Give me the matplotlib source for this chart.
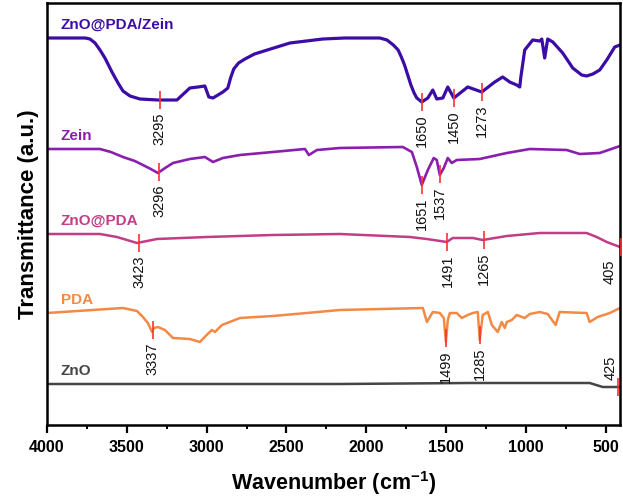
import numpy as np
import matplotlib
matplotlib.use("Agg")
import matplotlib.pyplot as plt
from matplotlib.ticker import MultipleLocator

plt.rcParams['font.family'] = ['Liberation Sans', 'DejaVu Sans']

# ---------------- data (wavenumber cm-1, offset transmittance a.u.) ----------------
combo_w = [4000, 3760, 3731, 3699, 3668, 3637, 3593, 3555, 3524, 3480, 3418, 3305, 3186, 3105,
           3054, 3011, 2986, 2960, 2898, 2867, 2850, 2830, 2800, 2760, 2700, 2600, 2478, 2272,
           2134, 1915, 1870, 1830, 1800, 1780, 1760, 1740, 1720, 1700, 1683, 1652, 1614, 1583,
           1558, 1520, 1489, 1451, 1364, 1276, 1195, 1145, 1101, 1057, 1038, 1032, 1007, 957,
           913, 900, 882, 863, 831, 769, 706, 650, 619, 580, 537, 493, 443, 410]
combo_t = [387, 387, 386, 382, 375, 367, 353, 342, 334, 329, 326, 325, 325, 337,
           338, 339, 328, 327, 333, 337, 347, 356, 362, 366, 371, 376, 382, 386,
           387, 387, 385, 380, 375, 368, 360, 350, 340, 332, 327, 323, 327, 335,
           326, 327, 338, 327, 338, 333, 343, 348, 343, 340, 338, 347, 375, 385,
           384, 386, 367, 386, 383, 372, 357, 350, 349, 351, 355, 365, 378, 380]

zein_w = [4000, 3668, 3600, 3524, 3450, 3399, 3350, 3305, 3260, 3211, 3105, 3011, 2960, 2898,
          2791, 2585, 2384, 2359, 2309, 2165, 1771, 1714, 1683, 1652, 1614, 1577, 1558, 1539,
          1514, 1489, 1464, 1433, 1289, 1119, 975, 744, 662, 537, 410]
zein_t = [276, 276, 273, 268, 264, 260, 256, 252, 257, 262, 266, 268, 263, 267,
          270, 273, 276, 270, 275, 277, 278, 273, 258, 240, 255, 267, 265, 250,
          257, 267, 262, 265, 266, 272, 276, 275, 271, 272, 279]

znopda_w = [4000, 3668, 3562, 3436, 3311, 2998, 2585, 2165, 1727, 1620, 1495, 1458, 1332, 1270,
            1119, 913, 619, 556, 493, 410]
znopda_t = [191, 191, 188, 182, 186, 188, 190, 191, 188, 186, 183, 187, 187, 185,
            189, 192, 192, 188, 183, 178]

pda_w = [4000, 3524, 3436, 3399, 3368, 3342, 3330, 3305, 3261, 3211, 3105, 3042, 3000, 2967,
         2948, 2904, 2791, 2585, 2372, 2165, 1645, 1620, 1583, 1539, 1514, 1501, 1489, 1476,
         1433, 1401, 1364, 1332, 1301, 1289, 1270, 1238, 1213, 1176, 1151, 1132, 1119, 1088,
         1057, 1007, 975, 913, 863, 813, 788, 619, 600, 550, 474, 410]
pda_t = [112, 117, 114, 108, 102, 93, 97, 98, 95, 87, 86, 83, 90, 95,
         93, 100, 107, 109, 112, 115, 117, 103, 113, 112, 107, 83, 105, 112,
         112, 107, 110, 112, 113, 85, 110, 113, 100, 93, 103, 97, 103, 105,
         110, 107, 111, 113, 111, 100, 113, 112, 103, 108, 112, 117]

zno_w = [4000, 2165, 1351, 600, 518, 410]
zno_t = [41, 41, 42, 42, 38, 38]

series_names = ['ZnO@PDA/Zein', 'Zein', 'ZnO@PDA', 'PDA', 'ZnO']
series_colors = ['#3C0DA6', '#8A1FAE', '#C23C86', '#F28A45', '#454545']

combo_peaks = [3295, 1650, 1450, 1273]
zein_peaks = [3296, 1651, 1537]
znopda_peaks = [3423, 1491, 1265, 405]
pda_peaks = [3337, 1499, 1285]
zno_peaks = [425]

xticks = [4000, 3500, 3000, 2500, 2000, 1500, 1000, 500]

# ---------------- figure ----------------
fig = plt.figure(figsize=(6.23, 5.00), dpi=100)
ax = fig.add_axes([47 / 623, 1 - 425 / 500, 573 / 623, 422 / 500])

all_w = [combo_w, zein_w, znopda_w, pda_w, zno_w]
all_t = [combo_t, zein_t, znopda_t, pda_t, zno_t]
all_p = [combo_peaks, zein_peaks, znopda_peaks, pda_peaks, zno_peaks]
lws = [2.3, 1.9, 1.8, 1.8, 1.8]

for w, t, c, lw in zip(all_w, all_t, series_colors, lws):
    ax.plot(w, t, color=c, lw=lw, solid_joinstyle='round', zorder=2)

red = '#FF3030'
lab_kw = dict(textcoords='offset points', rotation=90, ha='center', fontsize=10.5,
              color='#111111', annotation_clip=False)
for k, (w, t, peaks) in enumerate(zip(all_w, all_t, all_p)):
    wr = np.array(w)[::-1]
    tr = np.array(t)[::-1]
    for p in peaks:
        yv = np.interp(p, wr, tr)
        ax.plot([p], [yv], marker='|', markersize=13, mew=1.2, color=red,
                clip_on=False, zorder=3)
        if k == 4:
            ax.annotate(str(p), (p, yv), xytext=(-5, 5), va='bottom', **lab_kw)
        elif p < 450:
            ax.annotate(str(p), (p, yv), xytext=(-8, -9), va='top', **lab_kw)
        else:
            ax.annotate(str(p), (p, yv), xytext=(0, -9), va='top', **lab_kw)

# series names
for name, c, t in zip(series_names, series_colors, all_t):
    ax.annotate(name, (4000, t[0]), xytext=(10, 4.5), textcoords='offset points',
                ha='left', va='bottom', fontsize=11, fontweight='bold', color=c)

ax.set_xlim(4000, 410)
ax.set_ylim(0, 422)
ax.set_xticks(xticks)
ax.set_xticklabels([str(v) for v in xticks], fontweight='bold', fontsize=11.5)
ax.xaxis.set_minor_locator(MultipleLocator(250))
ax.tick_params(axis='x', which='major', direction='out', length=6, width=1.6, pad=5)
ax.tick_params(axis='x', which='minor', direction='out', length=3, width=1.4)
ax.set_yticks([])
for s in ax.spines.values():
    s.set_linewidth(1.8)
    s.set_color('black')

ax.set_xlabel('Wavenumber (cm$^{\\mathregular{-1}}$)', fontsize=15.5, fontweight='bold', labelpad=10)
ax.set_ylabel('Transmittance (a.u.)', fontsize=16, fontweight='bold', labelpad=6)

fig.savefig('out.png', dpi=100)
